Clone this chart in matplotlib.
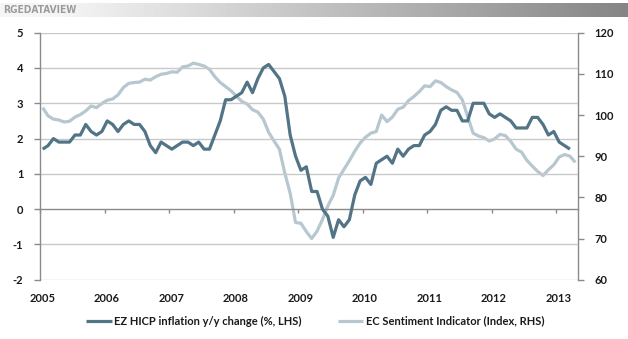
import numpy as np
import matplotlib
matplotlib.use("Agg")
import matplotlib.pyplot as plt
from matplotlib import font_manager as fm
from matplotlib.transforms import blended_transform_factory

# ---------------- data ----------------
years = ["2005", "2006", "2007", "2008", "2009", "2010", "2011", "2012", "2013"]

hicp = [
    1.7, 1.8, 2.0, 1.9, 1.9, 1.9, 2.1, 2.1, 2.4, 2.2, 2.1, 2.2,      # 2005
    2.5, 2.4, 2.2, 2.4, 2.5, 2.4, 2.4, 2.2, 1.8, 1.6, 1.9, 1.8,      # 2006
    1.7, 1.8, 1.9, 1.9, 1.8, 1.9, 1.7, 1.7, 2.1, 2.5, 3.1, 3.1,      # 2007
    3.2, 3.3, 3.6, 3.3, 3.7, 4.0, 4.1, 3.9, 3.7, 3.2, 2.1, 1.5,      # 2008
    1.1, 1.2, 0.5, 0.5, 0.0, -0.2, -0.8, -0.3, -0.5, -0.3, 0.4, 0.8, # 2009
    0.9, 0.7, 1.3, 1.4, 1.5, 1.3, 1.7, 1.5, 1.7, 1.8, 1.8, 2.1,      # 2010
    2.2, 2.4, 2.8, 2.9, 2.8, 2.8, 2.5, 2.5, 3.0, 3.0, 3.0, 2.7,      # 2011
    2.6, 2.7, 2.6, 2.5, 2.3, 2.3, 2.3, 2.6, 2.6, 2.4, 2.1, 2.2,      # 2012
    1.9, 1.8, 1.7,                                                   # 2013
]

sentiment = [
    101.8, 99.8, 99.0, 98.8, 98.3, 98.5, 99.5, 100.1, 101.0, 102.2, 101.8, 102.8,   # 2005
    103.6, 103.9, 104.9, 106.7, 107.7, 107.9, 108.0, 108.7, 108.5, 109.3, 109.9, 110.1,  # 2006
    110.5, 110.4, 111.7, 111.9, 112.6, 112.3, 111.9, 111.1, 109.3, 107.9, 106.9, 105.9,  # 2007
    104.6, 103.3, 102.7, 101.3, 100.7, 99.0, 95.8, 93.7, 91.7, 85.9, 81.0, 73.9,    # 2008
    73.7, 71.7, 70.0, 71.8, 74.6, 77.9, 80.5, 84.7, 86.8, 88.9, 91.2, 93.2,         # 2009
    94.6, 95.6, 96.0, 100.0, 98.4, 99.5, 101.4, 101.9, 103.5, 104.5, 105.7, 107.1,  # 2010
    106.9, 108.3, 107.9, 106.9, 106.1, 105.5, 103.7, 99.6, 95.6, 94.9, 94.5, 93.7,  # 2011
    94.2, 95.3, 95.0, 93.6, 91.7, 91.0, 89.0, 87.6, 86.3, 85.3, 86.7, 87.9,         # 2012
    89.8, 90.4, 90.0, 88.5,                                                          # 2013
]

left_ticks = [-2, -1, 0, 1, 2, 3, 4, 5]
right_ticks = [60, 70, 80, 90, 100, 110, 120]
label_hicp = "EZ HICP inflation y/y change (%, LHS)"
label_sent = "EC Sentiment Indicator (Index, RHS)"

# ---------------- style ----------------
DARK = "#527486"
LIGHT = "#b7c7cf"
GRID = "#c9c9c9"
AXIS = "#8a8a8a"
TXT = "#1a1a1a"
FONT = "Lato"

plt.rcParams["font.family"] = [FONT, "DejaVu Sans"]
plt.rcParams["axes.unicode_minus"] = False

fig = plt.figure(figsize=(6.28, 3.39), dpi=100)
fig.patch.set_facecolor("white")

# header gradient bar
W, H = 628, 339
hx0, hy0, hy1 = 0, 3, 17
gax = fig.add_axes([hx0 / W, 1 - hy1 / H, 1 - hx0 / W, (hy1 - hy0) / H])
xs = np.linspace(0, 1, 600)
start = 60 / 628
grad = np.clip((xs - start) / (1 - start), 0, 1)
vals = 0.96 - grad * (0.96 - 0.52)
img = np.tile(vals, (10, 1))
gax.imshow(img, cmap="gray", vmin=0, vmax=1, aspect="auto", extent=[0, 1, 0, 1])
gax.axis("off")

# header text
try:
    fm.findfont(fm.FontProperties(family="Liberation Sans Narrow", weight="bold"),
                fallback_to_default=False)
    hfam = "Liberation Sans Narrow"
    hstretch = "normal"
except Exception:
    hfam = "DejaVu Sans"
    hstretch = "condensed"
fig.text(3 / W, 1 - 10 / H, "RGEDATAVIEW", family=hfam, fontstretch=hstretch,
         fontweight="bold", fontsize=7.3, color="#9b9b9b", va="center", ha="left")

# main axes
left, right = 40 / W, 578 / W
bottom, top = 1 - 279.7 / H, 1 - 32.7 / H
ax = fig.add_axes([left, bottom, right - left, top - bottom])
ax2 = ax.twinx()

n_total = len(sentiment)
x_h = np.arange(len(hicp))
x_s = np.arange(len(sentiment))

ax.set_xlim(-0.5, n_total - 0.5)
ax.set_ylim(-2, 5)
ax2.set_ylim(60, 120)

ax.set_yticks(left_ticks)
ax2.set_yticks(right_ticks)

for yv in left_ticks:
    if yv != 0:
        ax.axhline(yv, color=GRID, lw=1.0, zorder=0)

# lines
l2, = ax2.plot(x_s, sentiment, color=LIGHT, lw=2.3, solid_joinstyle="round",
               solid_capstyle="butt", zorder=2, label=label_sent)
l1, = ax.plot(x_h, hicp, color=DARK, lw=2.3, solid_joinstyle="round",
              solid_capstyle="butt", zorder=3, label=label_hicp)
ax.set_zorder(ax2.get_zorder() + 1)
ax.patch.set_visible(False)

# spines
for a in (ax, ax2):
    a.spines["top"].set_visible(False)
ax.spines["right"].set_visible(False)
ax2.spines["left"].set_visible(False)
ax2.spines["bottom"].set_visible(False)
ax.spines["left"].set_color(AXIS)
ax2.spines["right"].set_color(AXIS)
ax.spines["bottom"].set_position(("data", 0))
ax.spines["bottom"].set_color(AXIS)
for sp in (ax.spines["left"], ax2.spines["right"], ax.spines["bottom"]):
    sp.set_linewidth(1.0)

# x ticks at year boundaries
xt = [-0.5 + 12 * k for k in range(len(years))]
ax.set_xticks(xt)
ax.tick_params(axis="x", direction="out", length=3, color=AXIS, width=1.0,
               labelbottom=False)
trans = blended_transform_factory(ax.transData, ax.transAxes)
for xv, lab in zip(xt, years):
    ax.text(xv + 0.4, -0.075, lab, transform=trans, ha="center", va="center",
            fontsize=8, color=TXT, fontweight="bold")

ax.tick_params(axis="y", direction="out", length=4, color=AXIS, width=1.0,
               labelsize=8, labelcolor=TXT, pad=8)
ax2.tick_params(axis="y", direction="out", length=4, color=AXIS, width=1.0,
                labelsize=8, labelcolor=TXT, pad=8)
for lab in ax.get_yticklabels() + ax2.get_yticklabels():
    lab.set_fontweight("bold")

# legend
leg = fig.legend(handles=[l1, l2], loc="center", bbox_to_anchor=(0.502, 1 - 321 / H),
                 ncol=2, frameon=False, fontsize=8, handlelength=2.3,
                 handletextpad=0.25, columnspacing=3.2)
for t in leg.get_texts():
    t.set_color(TXT)
    t.set_fontweight("bold")

fig.savefig("out.png", dpi=100, facecolor="white")
